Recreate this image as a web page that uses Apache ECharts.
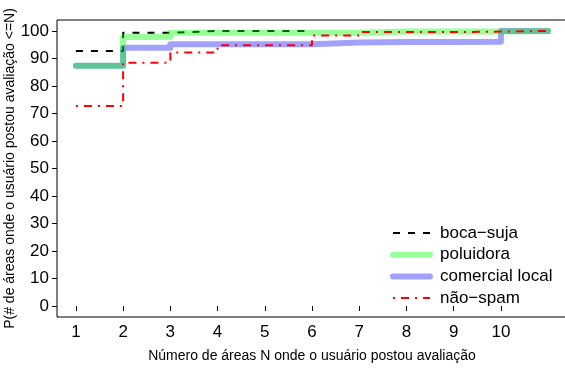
<!DOCTYPE html>
<html>
<head>
<meta charset="utf-8">
<script src="https://cdn.jsdelivr.net/npm/echarts@6/dist/echarts.min.js"></script>
<style>
html,body{margin:0;padding:0;background:#fff;}
#chart{width:565px;height:374px;}
</style>
</head>
<body>
<div id="chart"></div>
<script>
// Data (ECDF step values, %)
const xValues = [1, 2, 3, 4, 5, 6, 7, 8, 9, 10, 11];
const bocaSuja = [92.7, 99.4, 100, 100, 100, 100];
const poluidora = [87.4, 97.8, 99.4, 99.4, 99.4, 99.4, 99.8, 99.8, 99.8, 100, 100];
const comercialLocal = [87.4, 93.9, 95.2, 95.2, 95.2, 95.8, 96.0, 96.0, 96.1, 100, 100];
const naoSpam = [72.7, 88.5, 92.2, 94.8, 94.8, 98.4, 99.6, 99.6, 99.8, 100, 100];
const xTicks = [1, 2, 3, 4, 5, 6, 7, 8, 9, 10];
const yTicks = [0, 10, 20, 30, 40, 50, 60, 70, 80, 90, 100];

const seriesNames = ['boca\u2212suja', 'poluidora', 'comercial local', 'n\u00e3o\u2212spam'];
const FONT = 'Liberation Sans, Arial, Helvetica, sans-serif';

function pairs(vals) { return vals.map((v, i) => [xValues[i], v]); }

const styles = {
  black: {color: '#000', width: 2, type: [7, 8], cap: 'butt'},
  blue: {color: 'rgba(0,0,255,0.37)', width: 6, type: 'solid', cap: 'round', join: 'round'},
  green: {color: 'rgba(0,255,0,0.4)', width: 6, type: 'solid', cap: 'round', join: 'round'},
  red: {color: '#ff0000', width: 2, type: [2, 6, 8, 6], cap: 'butt'}
};

const chart = echarts.init(document.getElementById('chart'), null, {renderer: 'canvas'});
chart.setOption({
  animation: false,
  backgroundColor: '#ffffff',
  textStyle: {fontFamily: FONT},
  grid: {left: 57, top: 20, width: 510, height: 297, show: true, borderColor: '#000', borderWidth: 1,
         backgroundColor: 'transparent', containLabel: false, outerBoundsMode: 'none'},
  xAxis: {
    type: 'value', min: 0.6, max: 11.4,
    name: 'N\u00famero de \u00e1reas N onde o usu\u00e1rio postou avalia\u00e7\u00e3o',
    nameLocation: 'middle', nameGap: 32, nameMoveOverlap: false,
    nameTextStyle: {fontSize: 14, color: '#000', fontFamily: FONT},
    axisLine: {show: false},
    splitLine: {show: false},
    axisTick: {show: true, inside: false, length: 5, lineStyle: {color: '#000', width: 1}, customValues: xTicks},
    axisLabel: {color: '#000', fontSize: 17, margin: 7, fontFamily: FONT, customValues: xTicks}
  },
  yAxis: {
    type: 'value', min: -4, max: 104,
    name: 'P(# de \u00e1reas onde o usu\u00e1rio postou avalia\u00e7\u00e3o <=N)',
    nameLocation: 'middle', nameGap: 40, nameMoveOverlap: false,
    nameTextStyle: {fontSize: 14, color: '#000', fontFamily: FONT},
    axisLine: {show: false},
    splitLine: {show: false},
    axisTick: {show: true, inside: false, length: 5, lineStyle: {color: '#000', width: 1}, customValues: yTicks},
    axisLabel: {color: '#000', fontSize: 17, margin: 8, fontFamily: FONT, customValues: yTicks}
  },
  legend: {
    orient: 'vertical', left: 385, top: 218,
    data: [
      {name: seriesNames[0], lineStyle: styles.black},
      {name: seriesNames[1], lineStyle: styles.green},
      {name: seriesNames[2], lineStyle: styles.blue},
      {name: seriesNames[3], lineStyle: styles.red}
    ],
    itemWidth: 37, itemHeight: 12, itemGap: 1.7,
    selectedMode: false,
    itemStyle: {opacity: 0},
    textStyle: {fontSize: 17, color: '#000', lineHeight: 20, fontFamily: FONT, padding: [0, 0, 0, 5]}
  },
  series: [
    {name: seriesNames[0], type: 'line', step: 'end', symbol: 'none', data: pairs(bocaSuja),
     lineStyle: styles.black, itemStyle: {color: '#000'}},
    {name: seriesNames[2], type: 'line', step: 'end', symbol: 'none', data: pairs(comercialLocal),
     lineStyle: styles.blue, itemStyle: {color: 'rgba(0,0,255,0.37)'}},
    {name: seriesNames[1], type: 'line', step: 'end', symbol: 'none', data: pairs(poluidora),
     lineStyle: styles.green, itemStyle: {color: 'rgba(0,255,0,0.4)'}},
    {name: seriesNames[3], type: 'line', step: 'end', symbol: 'none', data: pairs(naoSpam),
     lineStyle: styles.red, itemStyle: {color: '#ff0000'}}
  ]
});
</script>
</body>
</html>
